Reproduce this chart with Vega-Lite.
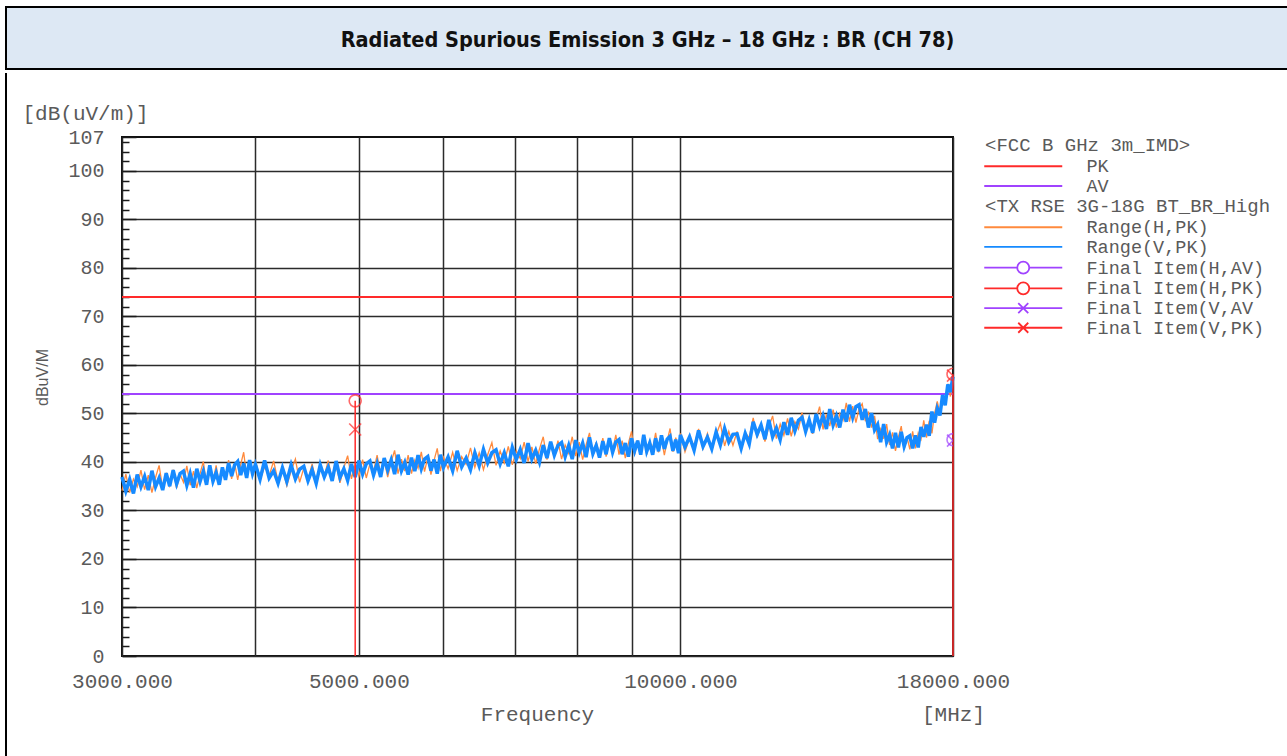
{
  "$schema": "https://vega.github.io/schema/vega-lite/v6.json",
  "padding": {"left": 4, "top": 5, "right": 0, "bottom": 0},
  "background": "white",
  "spacing": 0,
  "config": {"font": "Liberation Mono", "concat": {"spacing": 0}},
  "datasets": {
    "limits": [{"lim": "PK", "db": 74}, {"lim": "AV", "db": 54}],
    "markers": [
      {"f": 4960, "db": 52.6, "series": "Final Item(H,PK)", "mk": "o"},
      {"f": 4960, "db": 46.7, "series": "Final Item(V,PK)", "mk": "x"},
      {"f": 18000, "db": 58.1, "series": "Final Item(H,PK)", "mk": "o"},
      {"f": 18000, "db": 57.8, "series": "Final Item(V,PK)", "mk": "x"},
      {"f": 18000, "db": 44.6, "series": "Final Item(H,AV)", "mk": "o"},
      {"f": 18000, "db": 44.4, "series": "Final Item(V,AV", "mk": "x"}
    ],
    "trace": [
      {"f":3000,"h":34.1,"v":36.9},{"f":3025,"h":37.5,"v":34.0},{"f":3050,"h":33.7,"v":36.4},{"f":3075,"h":36.5,"v":33.5},
      {"f":3100,"h":34.9,"v":37.4},{"f":3125,"h":38.3,"v":34.9},{"f":3150,"h":34.3,"v":37.0},{"f":3175,"h":37.3,"v":34.2},
      {"f":3200,"h":33.7,"v":38.2},{"f":3225,"h":36.8,"v":34.9},{"f":3250,"h":39.3,"v":36.7},{"f":3275,"h":34.5,"v":34.2},
      {"f":3300,"h":37.5,"v":37.7},{"f":3325,"h":35.1,"v":35.0},{"f":3350,"h":38.4,"v":38.3},{"f":3375,"h":34.6,"v":35.5},
      {"f":3400,"h":37.5,"v":37.6},{"f":3425,"h":35.8,"v":38.1},{"f":3450,"h":39.2,"v":35.2},{"f":3475,"h":35.2,"v":37.6},
      {"f":3500,"h":38.1,"v":34.7},{"f":3525,"h":34.6,"v":38.6},{"f":3550,"h":37.6,"v":36.0},{"f":3575,"h":40.1,"v":38.1},
      {"f":3600,"h":35.4,"v":35.3},{"f":3625,"h":38.3,"v":39.3},{"f":3650,"h":35.9,"v":36.0},{"f":3675,"h":39.3,"v":37.8},
      {"f":3700,"h":35.4,"v":35.3},{"f":3725,"h":38.4,"v":38.9},{"f":3750,"h":36.9,"v":36.3},{"f":3775,"h":40.4,"v":39.8},
      {"f":3800,"h":36.5,"v":37.1},{"f":3825,"h":39.7,"v":39.4},{"f":3850,"h":36.3,"v":40.1},{"f":3875,"h":39.5,"v":37.3},
      {"f":3900,"h":42.0,"v":39.7},{"f":3925,"h":37.1,"v":36.7},{"f":3950,"h":39.9,"v":40.4},{"f":3975,"h":37.2,"v":37.6},
      {"f":4000,"h":40.4,"v":39.5},
      {"f":4040,"h":36.3,"v":36.4},{"f":4080,"h":39.0,"v":40.3},{"f":4120,"h":37.1,"v":36.7},{"f":4160,"h":40.2,"v":38.2},
      {"f":4200,"h":36.0,"v":35.6},{"f":4240,"h":38.7,"v":38.8},{"f":4280,"h":35.1,"v":36.0},{"f":4320,"h":38.2,"v":39.4},
      {"f":4360,"h":40.6,"v":36.5},{"f":4400,"h":35.8,"v":38.5},{"f":4440,"h":38.8,"v":39.1},{"f":4480,"h":36.3,"v":36.1},
      {"f":4520,"h":39.6,"v":38.4},{"f":4560,"h":35.8,"v":35.6},{"f":4600,"h":38.6,"v":39.4},{"f":4640,"h":37.0,"v":36.9},
      {"f":4680,"h":40.3,"v":38.9},{"f":4720,"h":36.3,"v":36.1},{"f":4760,"h":39.3,"v":40.2},{"f":4800,"h":35.7,"v":36.8},
      {"f":4840,"h":38.8,"v":38.6},{"f":4880,"h":41.3,"v":36.2},{"f":4920,"h":36.5,"v":39.6},{"f":4960,"h":39.5,"v":36.9},
      {"f":5000,"h":37.1,"v":40.3},{"f":5040,"h":40.5,"v":37.5},{"f":5080,"h":36.7,"v":39.6},{"f":5120,"h":39.6,"v":40.2},
      {"f":5160,"h":38.0,"v":37.3},{"f":5200,"h":41.4,"v":39.7},{"f":5240,"h":37.4,"v":36.9},{"f":5280,"h":40.4,"v":40.8},
      {"f":5320,"h":36.9,"v":38.3},{"f":5360,"h":40.0,"v":40.4},{"f":5400,"h":42.4,"v":37.5},{"f":5440,"h":37.6,"v":41.5},
      {"f":5480,"h":40.6,"v":38.2},{"f":5520,"h":38.1,"v":39.9},{"f":5560,"h":41.4,"v":37.4},{"f":5600,"h":37.6,"v":40.9},
      {"f":5640,"h":40.4,"v":38.1},{"f":5680,"h":38.7,"v":41.4},{"f":5720,"h":42.1,"v":38.6},{"f":5760,"h":38.0,"v":40.6},
      {"f":5800,"h":40.9,"v":41.1},{"f":5840,"h":37.4,"v":38.2},{"f":5880,"h":40.4,"v":40.5},{"f":5920,"h":42.8,"v":37.6},
      {"f":5960,"h":38.1,"v":41.5},{"f":6000,"h":41.0,"v":38.9},
      {"f":6060,"h":38.6,"v":41.0},{"f":6120,"h":42.0,"v":38.2},{"f":6180,"h":38.2,"v":42.3},{"f":6240,"h":41.1,"v":39.0},
      {"f":6300,"h":39.5,"v":40.8},{"f":6360,"h":42.9,"v":38.4},{"f":6420,"h":38.9,"v":41.9},{"f":6480,"h":41.9,"v":39.2},
      {"f":6540,"h":38.4,"v":42.6},{"f":6600,"h":41.5,"v":39.8},{"f":6660,"h":44.0,"v":41.9},{"f":6720,"h":39.3,"v":42.5},
      {"f":6780,"h":42.3,"v":39.6},{"f":6840,"h":39.8,"v":41.9},{"f":6900,"h":43.2,"v":39.1},{"f":6960,"h":39.4,"v":43.0},
      {"f":7020,"h":42.3,"v":40.5},{"f":7080,"h":40.7,"v":42.6},{"f":7140,"h":44.1,"v":39.8},{"f":7200,"h":40.1,"v":43.9},
      {"f":7260,"h":43.1,"v":40.6},{"f":7320,"h":39.6,"v":42.4},{"f":7380,"h":42.7,"v":40.0},{"f":7440,"h":45.2,"v":43.5},
      {"f":7500,"h":40.5,"v":40.8},{"f":7560,"h":43.5,"v":44.2},{"f":7620,"h":41.1,"v":41.4},{"f":7680,"h":44.4,"v":43.4},
      {"f":7740,"h":40.6,"v":44.0},{"f":7800,"h":43.5,"v":41.1},{"f":7860,"h":41.8,"v":43.4},{"f":7920,"h":45.2,"v":40.6},
      {"f":7980,"h":41.2,"v":44.5},{"f":8040,"h":44.1,"v":41.9},{"f":8100,"h":40.5,"v":43.9},{"f":8160,"h":43.5,"v":41.0},
      {"f":8220,"h":46.0,"v":45.1},{"f":8280,"h":41.2,"v":41.7},{"f":8340,"h":44.1,"v":43.4},{"f":8400,"h":41.6,"v":40.9},
      {"f":8460,"h":44.9,"v":44.3},{"f":8520,"h":41.1,"v":41.6},{"f":8580,"h":43.9,"v":44.9},{"f":8640,"h":42.2,"v":42.0},
      {"f":8700,"h":45.6,"v":44.1},{"f":8760,"h":41.5,"v":44.6},{"f":8820,"h":44.4,"v":41.6},{"f":8880,"h":40.8,"v":43.9},
      {"f":8940,"h":43.9,"v":41.1},{"f":9000,"h":46.3,"v":44.9},{"f":9060,"h":41.5,"v":42.3},{"f":9120,"h":44.5,"v":44.4},
      {"f":9180,"h":42.0,"v":41.5},{"f":9240,"h":45.4,"v":45.6},{"f":9300,"h":41.5,"v":42.2},{"f":9360,"h":44.3,"v":43.9},
      {"f":9420,"h":42.7,"v":41.5},{"f":9480,"h":46.0,"v":44.9},{"f":9540,"h":42.0,"v":42.2},{"f":9600,"h":44.9,"v":45.5},
      {"f":9660,"h":41.4,"v":42.7},{"f":9720,"h":44.4,"v":44.7},{"f":9780,"h":46.9,"v":45.3},{"f":9840,"h":42.1,"v":42.3},
      {"f":9900,"h":45.0,"v":44.6},{"f":9960,"h":42.6,"v":41.8},
      {"f":10000,"h":45.9,"v":45.6},{"f":10100,"h":42.1,"v":43.1},{"f":10200,"h":45.0,"v":45.2},{"f":10300,"h":43.4,"v":42.4},
      {"f":10400,"h":46.8,"v":46.5},{"f":10500,"h":42.8,"v":43.2},{"f":10600,"h":45.9,"v":45.1},{"f":10700,"h":42.4,"v":42.7},
      {"f":10800,"h":45.5,"v":46.2},{"f":10900,"h":48.0,"v":43.5},{"f":11000,"h":43.3,"v":46.9},{"f":11100,"h":46.3,"v":44.1},
      {"f":11200,"h":43.4,"v":45.7},{"f":11300,"h":46.3,"v":45.8},{"f":11400,"h":42.4,"v":42.8},{"f":11500,"h":46.0,"v":45.9},
      {"f":11600,"h":45.0,"v":43.7},{"f":11700,"h":49.1,"v":48.3},{"f":11800,"h":45.0,"v":45.7},{"f":11900,"h":47.8,"v":47.6},
      {"f":12000,"h":44.2,"v":44.7},{"f":12100,"h":47.2,"v":48.7},{"f":12200,"h":49.5,"v":45.2},{"f":12300,"h":44.8,"v":47.0},
      {"f":12400,"h":47.8,"v":44.6},{"f":12500,"h":45.5,"v":48.2},{"f":12600,"h":49.0,"v":45.6},{"f":12700,"h":45.3,"v":49.1},
      {"f":12800,"h":48.3,"v":46.4},{"f":12900,"h":46.8,"v":48.6},{"f":13000,"h":50.2,"v":49.2},{"f":13100,"h":46.2,"v":46.3},
      {"f":13200,"h":49.2,"v":48.7},{"f":13300,"h":45.8,"v":46.0},{"f":13400,"h":48.9,"v":49.9},{"f":13500,"h":51.4,"v":47.4},
      {"f":13600,"h":46.7,"v":49.5},{"f":13700,"h":49.8,"v":46.8},{"f":13800,"h":47.4,"v":50.9},{"f":13900,"h":50.8,"v":47.6},
      {"f":14000,"h":47.1,"v":49.5},{"f":14100,"h":50.0,"v":47.1},{"f":14200,"h":48.6,"v":50.8},{"f":14300,"h":52.2,"v":48.3},
      {"f":14400,"h":48.3,"v":51.8},{"f":14500,"h":51.5,"v":49.2},{"f":14600,"h":48.1,"v":51.4},{"f":14700,"h":51.0,"v":51.8},
      {"f":14800,"h":52.0,"v":48.7},{"f":14900,"h":48.4,"v":50.9},{"f":15000,"h":50.4,"v":47.1},{"f":15100,"h":47.1,"v":50.1},
      {"f":15200,"h":49.5,"v":46.6},{"f":15300,"h":44.7,"v":47.7},{"f":15400,"h":46.8,"v":44.1},{"f":15500,"h":44.8,"v":47.8},
      {"f":15600,"h":47.8,"v":44.1},{"f":15700,"h":43.5,"v":45.6},{"f":15800,"h":46.1,"v":42.8},{"f":15900,"h":42.3,"v":46.0},
      {"f":16000,"h":45.1,"v":43.0},{"f":16100,"h":47.4,"v":46.2},{"f":16200,"h":42.5,"v":43.2},{"f":16300,"h":45.2,"v":45.0},
      {"f":16400,"h":42.6,"v":45.4},{"f":16500,"h":46.3,"v":42.8},{"f":16600,"h":42.8,"v":45.5},{"f":16700,"h":46.0,"v":43.0},
      {"f":16800,"h":44.7,"v":47.2},{"f":16900,"h":48.6,"v":45.2},{"f":17000,"h":45.0,"v":47.7},{"f":17100,"h":48.5,"v":45.4},
      {"f":17200,"h":45.9,"v":50.4},{"f":17300,"h":50.0,"v":48.1},{"f":17400,"h":52.5,"v":51.0},{"f":17500,"h":49.9,"v":49.6},
      {"f":17600,"h":53.6,"v":53.8},{"f":17700,"h":51.8,"v":51.7},{"f":17800,"h":56.1,"v":56.0},{"f":17900,"h":53.5,"v":54.4},
      {"f":18000,"h":57.5,"v":57.6}
    ]
  },
  "vconcat": [
    {
      "width": 831,
      "height": 62,
      "data": {"values": [{"heading": "Radiated Spurious Emission 3 GHz \u2013 18 GHz : BR (CH 78)"}]},
      "layer": [
        {
          "mark": {"type": "rect", "fill": "#dde8f4", "stroke": "#000000", "strokeWidth": 2},
          "encoding": {
            "x": {"datum": 0, "type": "quantitative", "scale": {"domain": [0, 1], "range": [-116, 1167], "nice": false, "zero": false}, "axis": null},
            "x2": {"datum": 1}
          }
        },
        {
          "mark": {"type": "text", "font": "Liberation Sans Narrow, DejaVu Sans Condensed, sans-serif", "fontSize": 21.5, "fontWeight": "bold", "color": "#111111", "baseline": "middle", "dy": 3},
          "encoding": {
            "x": {"datum": 0.5, "type": "quantitative", "axis": null},
            "text": {"field": "heading"}
          }
        }
      ]
    },
    {
      "width": 831,
      "height": 519,
      "view": {"stroke": "#111111", "strokeWidth": 2},
      "resolve": {"scale": {"x": "independent", "y": "independent"}},
      "layer": [
        {
          "layer": [
            {
              "data": {"name": "limits"},
              "mark": {"type": "rule", "strokeWidth": 2},
              "encoding": {
                "y": {
                  "field": "db", "type": "quantitative", "title": "[dB(uV/m)]",
                  "scale": {"domain": [0, 107], "nice": false, "zero": false},
                  "axis": {
                    "values": [0,2,4,6,8,10,12,14,16,18,20,22,24,26,28,30,32,34,36,38,40,42,44,46,48,50,52,54,56,58,60,62,64,66,68,70,72,74,76,78,80,82,84,86,88,90,92,94,96,98,100,102,104,106,107],
                    "tickCount": 200,
                    "labelOverlap": false,
                    "labelExpr": "datum.value % 10 === 0 || datum.value === 107 ? format(datum.value, 'd') : ''",
                    "domain": false,
                    "grid": true, "gridColor": "#2b2b2b", "gridWidth": 1.5,
                    "gridOpacity": {"condition": {"test": "datum.value % 10 === 0", "value": 1}, "value": 0},
                    "tickColor": "#1a1a1a", "tickWidth": 1.5,
                    "tickSize": {"condition": {"test": "datum.value % 10 === 0 || datum.value === 107", "value": -14}, "value": -7},
                    "labelFont": "Liberation Mono", "labelFontSize": 20, "labelColor": "#5a5a5a", "labelPadding": 32,
                    "titleFont": "Liberation Mono", "titleFontSize": 21, "titleFontWeight": "normal", "titleColor": "#5a5a5a",
                    "titleAngle": 0, "titleAlign": "left", "titleBaseline": "middle", "titleX": -100, "titleY": -24
                  }
                },
                "stroke": {
                  "field": "lim", "type": "nominal",
                  "scale": {"domain": ["PK", "AV"], "range": ["#ff2a2a", "#a043ff"]},
                  "legend": {
                    "title": "<FCC B GHz 3m_IMD>", "orient": "none", "legendX": 863, "legendY": 129, "padding": 0,
                    "titleFont": "Liberation Mono", "titleFontSize": 19, "titleFontWeight": "normal", "titleColor": "#5a5a5a", "titlePadding": 2, "titleLimit": 400,
                    "labelFont": "Liberation Mono", "labelFontSize": 18.5, "labelColor": "#5a5a5a", "labelOffset": 54, "labelLimit": 400,
                    "symbolType": "M-7.8,0H7.8", "symbolSize": 100, "symbolStrokeWidth": 2, "symbolOffset": 29, "rowPadding": 0.7
                  }
                }
              }
            },
            {
              "data": {"name": "trace"},
              "mark": {"type": "line", "strokeWidth": 1.3},
              "encoding": {
                "x": {
                  "field": "f", "type": "quantitative", "title": "Frequency",
                  "scale": {"type": "log", "domain": [3000, 18000], "nice": false},
                  "axis": {
                    "values": [3000, 4000, 5000, 6000, 7000, 8000, 9000, 10000, 18000],
                    "tickCount": 200,
                    "labelExpr": "datum.value === 3000 || datum.value === 5000 || datum.value === 10000 || datum.value === 18000 ? format(datum.value, '.3f') : ''",
                    "domain": false, "ticks": false,
                    "grid": true, "gridColor": "#2b2b2b", "gridWidth": 1.5,
                    "labelFlush": false, "labelOverlap": false,
                    "labelFont": "Liberation Mono", "labelFontSize": 21, "labelColor": "#5a5a5a", "labelPadding": 14,
                    "titleFont": "Liberation Mono", "titleFontSize": 21, "titleFontWeight": "normal", "titleColor": "#5a5a5a",
                    "titleX": 415, "titleY": 58, "titleAlign": "center", "titleBaseline": "middle"
                  }
                },
                "y": {"field": "h", "type": "quantitative", "title": "[dB(uV/m)]", "scale": {"domain": [0, 107], "nice": false, "zero": false}},
                "color": {
                  "datum": "Range(H,PK)", "type": "nominal",
                  "scale": {
                    "domain": ["Range(H,PK)", "Range(V,PK)", "Final Item(H,AV)", "Final Item(H,PK)", "Final Item(V,AV", "Final Item(V,PK)"],
                    "range": ["#ff8a3d", "#168aff", "#a043ff", "#ff2a2a", "#a043ff", "#ff2a2a"]
                  },
                  "legend": {
                    "title": "<TX RSE 3G-18G BT_BR_High", "orient": "none", "legendX": 863, "legendY": 190, "padding": 0,
                    "titleFont": "Liberation Mono", "titleFontSize": 19, "titleFontWeight": "normal", "titleColor": "#5a5a5a", "titlePadding": 2, "titleLimit": 400,
                    "labelFont": "Liberation Mono", "labelFontSize": 18.5, "labelColor": "#5a5a5a", "labelOffset": 54, "labelLimit": 400,
                    "symbolType": "M-7.8,0H7.8", "symbolSize": 100, "symbolStrokeWidth": 1.8, "symbolOffset": 29, "rowPadding": 0.7,
                    "encode": {
                      "symbols": {
                        "update": {
                          "fill": {"value": "transparent"},
                          "shape": {"signal": "indexof(datum.value, 'Range') === 0 ? 'M-7.8,0H7.8' : (indexof(datum.value, '(H') > 0 ? 'M-7.8,0H-1.2M1.2,0H7.8M-1.2,0A1.2,1.2 0 1,1 1.2,0A1.2,1.2 0 1,1 -1.2,0' : 'M-7.8,0H7.8M-1,-1L1,1M-1,1L1,-1')"}
                        }
                      }
                    }
                  }
                }
              }
            },
            {
              "data": {"name": "trace"},
              "mark": {"type": "line", "strokeWidth": 3.5},
              "encoding": {
                "x": {"field": "f", "type": "quantitative", "title": "Frequency", "scale": {"type": "log", "domain": [3000, 18000], "nice": false}},
                "y": {"field": "v", "type": "quantitative", "title": "[dB(uV/m)]", "scale": {"domain": [0, 107], "nice": false, "zero": false}},
                "color": {"datum": "Range(V,PK)", "type": "nominal"}
              }
            },
            {
              "data": {"name": "markers"},
              "transform": [{"filter": "datum.series === 'Final Item(H,PK)'"}],
              "mark": {"type": "rule", "color": "#ff2a2a", "strokeWidth": 1.5},
              "encoding": {
                "x": {"field": "f", "type": "quantitative", "title": "Frequency", "scale": {"type": "log", "domain": [3000, 18000], "nice": false}},
                "y": {"field": "db", "type": "quantitative", "title": "[dB(uV/m)]", "scale": {"domain": [0, 107], "nice": false, "zero": false}},
                "y2": {"datum": 0}
              }
            },
            {
              "data": {"name": "markers"},
              "mark": {"type": "point", "filled": false, "size": 144, "strokeWidth": 1.6, "clip": true},
              "encoding": {
                "x": {"field": "f", "type": "quantitative", "title": "Frequency", "scale": {"type": "log", "domain": [3000, 18000], "nice": false}},
                "y": {"field": "db", "type": "quantitative", "title": "[dB(uV/m)]", "scale": {"domain": [0, 107], "nice": false, "zero": false}},
                "color": {"field": "series", "type": "nominal"},
                "shape": {"field": "mk", "type": "nominal", "scale": {"domain": ["o", "x"], "range": ["circle", "M-1,-1L1,1M-1,1L1,-1"]}, "legend": null}
              }
            }
          ]
        },
        {
          "data": {"values": [{"edge": 0, "top": 0, "bottom": 1}]},
          "mark": {"type": "rule", "color": "#000000", "strokeWidth": 2},
          "encoding": {
            "x": {
              "field": "edge", "type": "quantitative",
              "scale": {"domain": [0, 1], "range": [-116, 1167], "nice": false, "zero": false},
              "axis": {
                "orient": "top", "domain": false, "ticks": false, "labels": false, "grid": false,
                "title": "[MHz]", "titleFont": "Liberation Mono", "titleFontSize": 21, "titleFontWeight": "normal", "titleColor": "#5a5a5a",
                "titleX": 831, "titleY": 577, "titleAlign": "center", "titleBaseline": "middle", "titleAngle": 0
              }
            },
            "y": {
              "field": "top", "type": "quantitative",
              "scale": {"domain": [0, 1], "range": [-64, 621], "nice": false, "zero": false},
              "axis": {
                "orient": "right", "domain": false, "ticks": false, "labels": false, "grid": false,
                "title": "dBuV/M", "titleFont": "Liberation Sans", "titleFontSize": 16, "titleFontWeight": "normal", "titleColor": "#5a5a5a",
                "titleX": -911, "titleY": 240, "titleAngle": 270, "titleAlign": "center", "titleBaseline": "middle"
              }
            },
            "y2": {"field": "bottom"}
          }
        }
      ]
    }
  ]
}
